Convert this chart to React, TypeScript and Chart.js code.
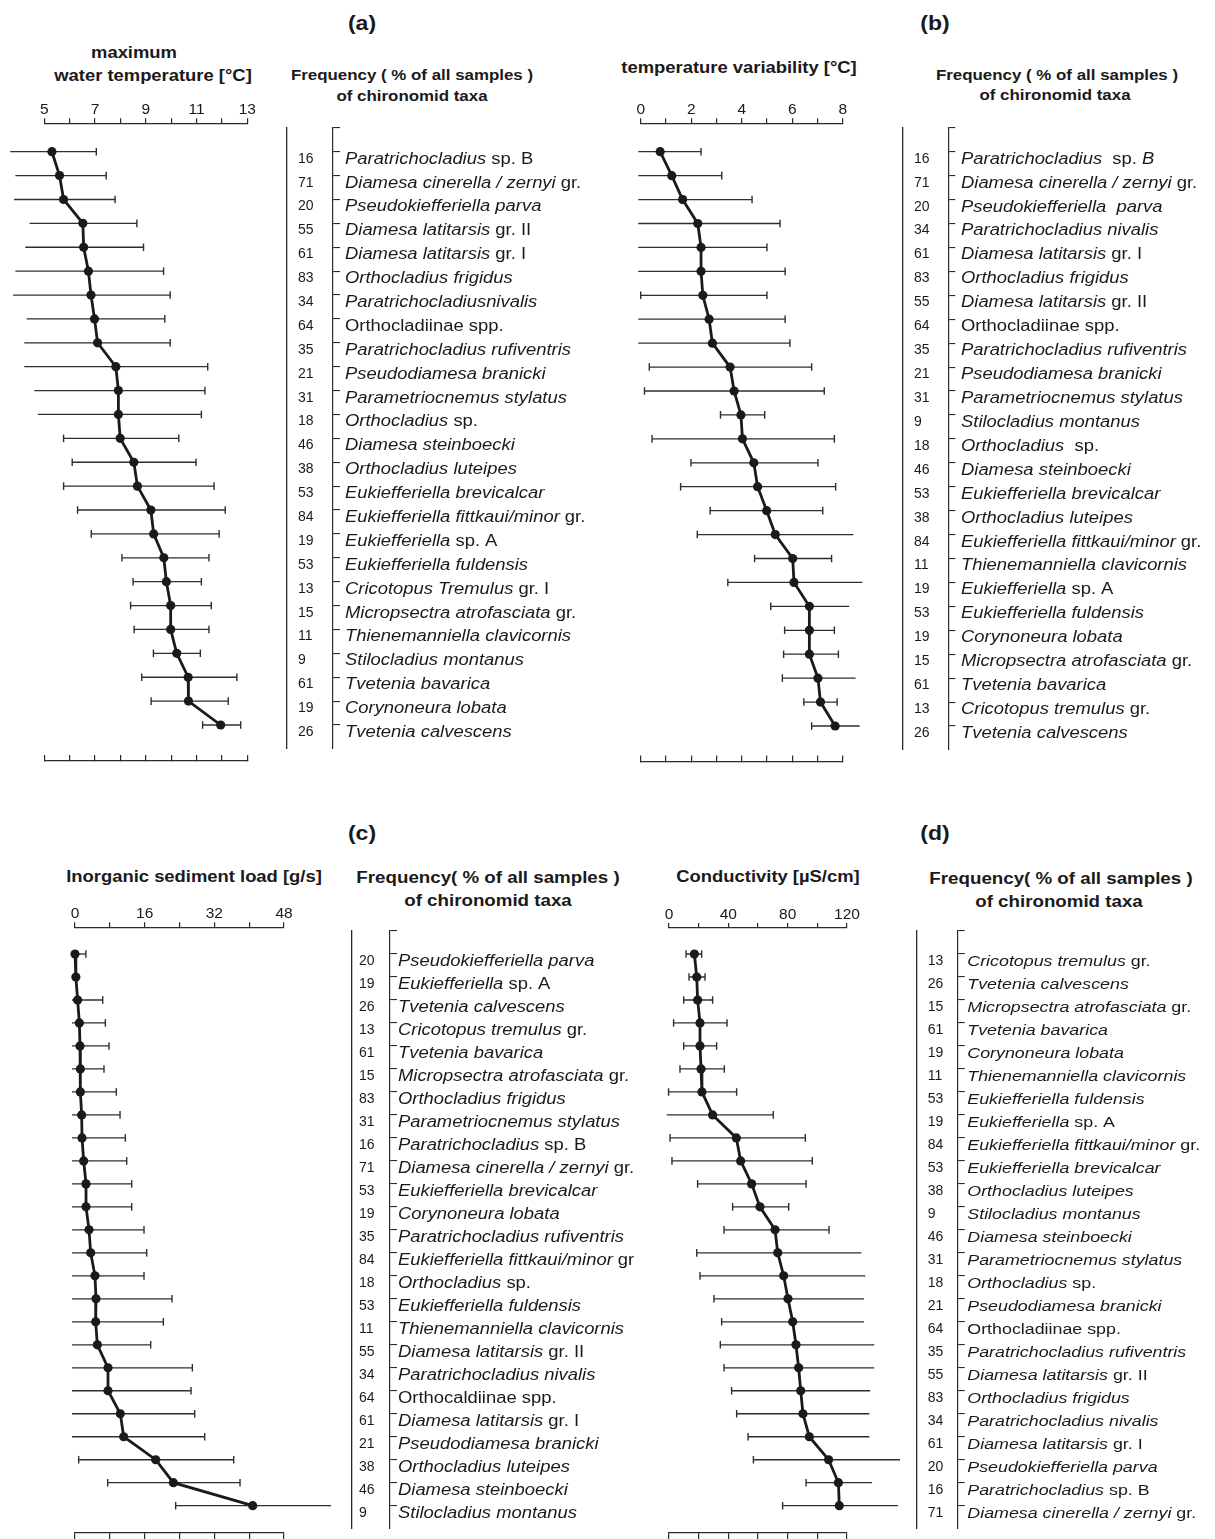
import React, { useEffect, useRef } from "react";
import { Chart, registerables } from "chart.js";
Chart.register(...registerables);

const FONT = '"Liberation Sans", Arial, Helvetica, sans-serif';
const INK = "#1a1a1a";
const BAR = "#2e2e2e";
const AXIS = "#2a2a2a";
const STRETCH = 1.15;

// ---------- Panel (a): maximum water temperature [°C] ----------
const taxaA = [
  "*Paratrichocladius* sp. B", "*Diamesa cinerella / zernyi* gr.", "*Pseudokiefferiella parva*",
  "*Diamesa latitarsis* gr. II", "*Diamesa latitarsis* gr. I", "*Orthocladius frigidus*",
  "*Paratrichocladiusnivalis*", "Orthocladiinae spp.", "*Paratrichocladius rufiventris*",
  "*Pseudodiamesa branicki*", "*Parametriocnemus stylatus*", "*Orthocladius* sp.",
  "*Diamesa steinboecki*", "*Orthocladius luteipes*", "*Eukiefferiella brevicalcar*",
  "*Eukiefferiella fittkaui/minor* gr.", "*Eukiefferiella* sp. A", "*Eukiefferiella fuldensis*",
  "*Cricotopus Tremulus* gr. I", "*Micropsectra atrofasciata* gr.", "*Thienemanniella clavicornis*",
  "*Stilocladius montanus*", "*Tvetenia bavarica*", "*Corynoneura lobata*", "*Tvetenia calvescens*",
];
const freqA = [16, 71, 20, 55, 61, 83, 34, 64, 35, 21, 31, 18, 46, 38, 53, 84, 19, 53, 13, 15, 11, 9, 61, 19, 26];
const meanA = [5.3, 5.6, 5.76, 6.52, 6.55, 6.74, 6.84, 6.98, 7.1, 7.82, 7.92, 7.92, 7.99, 8.53, 8.67, 9.2, 9.31, 9.71, 9.81, 9.98, 9.98, 10.22, 10.67, 10.68, 11.95];
const lowA = [3.66, 3.86, 3.81, 4.42, 4.25, 3.86, 3.77, 4.3, 4.21, 4.21, 4.61, 4.75, 5.76, 6.1, 5.76, 6.31, 6.85, 8.06, 8.5, 8.4, 8.54, 9.3, 8.84, 9.21, 11.24];
const highA = [7.05, 7.44, 7.79, 8.65, 8.91, 9.7, 9.96, 9.75, 9.96, 11.44, 11.33, 11.19, 10.3, 10.98, 11.69, 12.13, 11.89, 11.49, 11.19, 11.58, 11.49, 11.15, 12.59, 12.25, 12.74];
const tickLabelsA = [5, 7, 9, 11, 13];

// ---------- Panel (b): temperature variability [°C] ----------
const taxaB = [
  "*Paratrichocladius*  sp. *B*", "*Diamesa cinerella / zernyi* gr.", "*Pseudokiefferiella  parva*",
  "*Paratrichocladius nivalis*", "*Diamesa latitarsis* gr. I", "*Orthocladius frigidus*",
  "*Diamesa latitarsis* gr. II", "Orthocladiinae spp.", "*Paratrichocladius rufiventris*",
  "*Pseudodiamesa branicki*", "*Parametriocnemus stylatus*", "*Stilocladius montanus*",
  "*Orthocladius*  sp.", "*Diamesa steinboecki*", "*Eukiefferiella brevicalcar*",
  "*Orthocladius luteipes*", "*Eukiefferiella fittkaui/minor* gr.", "*Thienemanniella clavicornis*",
  "*Eukiefferiella* sp. A", "*Eukiefferiella fuldensis*", "*Corynoneura lobata*",
  "*Micropsectra atrofasciata* gr.", "*Tvetenia bavarica*", "*Cricotopus tremulus* gr.", "*Tvetenia calvescens*",
];
const freqB = [16, 71, 20, 34, 61, 83, 55, 64, 35, 21, 31, 9, 18, 46, 53, 38, 84, 11, 19, 53, 19, 15, 61, 13, 26];
const meanB = [0.77, 1.23, 1.66, 2.26, 2.39, 2.39, 2.46, 2.71, 2.84, 3.54, 3.7, 3.97, 4.03, 4.48, 4.63, 4.99, 5.33, 6.02, 6.07, 6.68, 6.68, 6.68, 7.02, 7.12, 7.7];
const lowB = [-0.5, -0.5, -0.5, -0.5, -0.5, -0.5, 0.0, -0.5, -0.5, 0.34, 0.15, 3.16, 0.45, 1.99, 1.58, 2.75, 2.24, 4.51, 3.45, 5.15, 5.7, 5.66, 5.61, 6.46, 6.77];
const highB = [2.39, 3.21, 4.41, 5.52, 5.0, 5.72, 5.0, 5.72, 5.91, 6.77, 7.27, 4.91, 7.67, 7.02, 7.72, 7.21, 8.42, 7.56, 8.78, 8.26, 7.67, 7.83, 8.51, 7.78, 8.67];
const tickLabelsB = [0, 2, 4, 6, 8];

// ---------- Panel (c): inorganic sediment load [g/s] ----------
const taxaC = [
  "*Pseudokiefferiella parva*", "*Eukiefferiella* sp. A", "*Tvetenia calvescens*",
  "*Cricotopus tremulus* gr.", "*Tvetenia bavarica*", "*Micropsectra atrofasciata* gr.",
  "*Orthocladius frigidus*", "*Parametriocnemus stylatus*", "*Paratrichocladius* sp. B",
  "*Diamesa cinerella / zernyi* gr.", "*Eukiefferiella brevicalcar*", "*Corynoneura lobata*",
  "*Paratrichocladius rufiventris*", "*Eukiefferiella fittkaui/minor* gr", "*Orthocladius* sp.",
  "*Eukiefferiella fuldensis*", "*Thienemanniella clavicornis*", "*Diamesa latitarsis* gr. II",
  "*Paratrichocladius nivalis*", "Orthocaldiinae spp.", "*Diamesa latitarsis* gr. I",
  "*Pseudodiamesa branicki*", "*Orthocladius luteipes*", "*Diamesa steinboecki*", "*Stilocladius montanus*",
];
const freqC = [20, 19, 26, 13, 61, 15, 83, 31, 16, 71, 53, 19, 35, 84, 18, 53, 11, 55, 34, 64, 61, 21, 38, 46, 9];
const meanC = [0.0, 0.2, 0.6, 1.0, 1.15, 1.23, 1.23, 1.53, 1.61, 1.99, 2.53, 2.53, 3.22, 3.6, 4.59, 4.82, 4.75, 5.13, 7.58, 7.58, 10.41, 11.18, 18.53, 22.59, 40.81];
const lowC = [-2, -2, -2, -2, -2, -2, -2, -2, -2, -2, -2, -2, -2, -2, -2, -2, -2, -2, -2, -2, -2, -2, 0.84, 7.5, 23.12];
const highC = [2.5, 0.5, 6.36, 6.97, 7.81, 6.66, 9.49, 10.34, 11.56, 11.87, 13.02, 13.02, 15.85, 16.46, 15.85, 22.28, 20.29, 17.38, 26.95, 26.65, 27.49, 29.79, 36.45, 37.9, 58.81];
const tickLabelsC = [0, 16, 32, 48];

// ---------- Panel (d): conductivity [µS/cm] ----------
const taxaD = [
  "*Cricotopus tremulus* gr.", "*Tvetenia calvescens*", "*Micropsectra atrofasciata* gr.",
  "*Tvetenia bavarica*", "*Corynoneura lobata*", "*Thienemanniella clavicornis*",
  "*Eukiefferiella fuldensis*", "*Eukiefferiella* sp. A", "*Eukiefferiella fittkaui/minor* gr.",
  "*Eukiefferiella brevicalcar*", "*Orthocladius luteipes*", "*Stilocladius montanus*",
  "*Diamesa steinboecki*", "*Parametriocnemus stylatus*", "*Orthocladius* sp.",
  "*Pseudodiamesa branicki*", "Orthocladiinae spp.", "*Paratrichocladius rufiventris*",
  "*Diamesa latitarsis* gr. II", "*Orthocladius frigidus*", "*Paratrichocladius nivalis*",
  "*Diamesa latitarsis* gr. I", "*Pseudokiefferiella parva*", "*Paratrichocladius* sp. B",
  "*Diamesa cinerella / zernyi* gr.",
];
const freqD = [13, 26, 15, 61, 19, 11, 53, 19, 84, 53, 38, 9, 46, 31, 18, 21, 64, 35, 55, 83, 34, 61, 20, 16, 71];
const meanD = [17.1, 18.7, 19.3, 20.9, 20.9, 21.6, 22.2, 29.4, 45.4, 48.3, 55.7, 61.3, 71.5, 73.3, 77.3, 80.2, 83.4, 85.6, 87.4, 88.8, 90.3, 94.6, 107.6, 114.2, 114.8];
const lowD = [11.5, 13.5, 9.9, 3.1, 9.9, 7.4, -0.3, -5, 0.7, 2.0, 19.3, 42.9, 37.1, 18.7, 20.9, 30.3, 35.5, 34.6, 37.1, 42.2, 45.6, 53.3, 56.9, 92.4, 76.6];
const highD = [22.0, 24.3, 29.4, 39.1, 32.1, 37.3, 45.6, 70.3, 91.9, 96.6, 92.4, 80.7, 107.9, 129.7, 132.4, 131.5, 131.5, 138.4, 138.4, 135.7, 135.1, 135.1, 160.7, 136.9, 154.4];
const tickLabelsD = [0, 40, 80, 120];

type Box = { left: number; top: number; w: number; h: number };

type PlotCfg = {
  box: Box;
  area: { l: number; r: number; t: number; b: number };
  rowFirst: number;
  rowLast: number;
  min: number;
  max: number;
  step: number;
  labels: number[];
  mean: number[];
  low: number[];
  high: number[];
  clip: any;
  botTick: number;
  botH: number;
};

function PlotChart(p: PlotCfg) {
  const ref = useRef<HTMLCanvasElement>(null);
  useEffect(() => {
    const n = p.mean.length;
    const s = (p.rowLast - p.rowFirst) / (n - 1);
    const yMin = 1 - (p.rowFirst - p.area.t) / s;
    const yMax = n + (p.area.b - p.rowLast) / s;
    const errSets = p.low.map((lo, i) => ({
      data: [
        { x: lo, y: i + 1 },
        { x: p.high[i], y: i + 1 },
      ],
      showLine: true,
      borderColor: BAR,
      borderWidth: 1.3,
      pointStyle: "line",
      pointRotation: 90,
      pointRadius: 3.8,
      pointHoverRadius: 3.8,
      pointBorderWidth: 1.4,
      pointBorderColor: BAR,
      clip: p.clip,
      order: 1,
      xAxisID: "x",
      yAxisID: "y",
    }));
    const meanSet = {
      data: p.mean.map((v, i) => ({ x: v, y: i + 1 })),
      showLine: true,
      borderColor: INK,
      borderWidth: 2.8,
      tension: 0,
      pointRadius: 4.6,
      pointHoverRadius: 4.6,
      pointBackgroundColor: INK,
      pointBorderColor: INK,
      pointBorderWidth: 0,
      clip: false,
      order: 0,
      xAxisID: "x",
      yAxisID: "y",
    };
    const axisCommon = {
      type: "linear",
      min: p.min,
      max: p.max,
      border: { display: true, color: AXIS, width: 1.3 },
    };
    const chart = new Chart(ref.current as HTMLCanvasElement, {
      type: "scatter",
      data: { datasets: [meanSet, ...errSets] as any },
      options: {
        responsive: false,
        maintainAspectRatio: false,
        animation: false,
        events: [],
        layout: {
          padding: {
            left: p.area.l,
            right: p.box.w - p.area.r,
            top: 0,
            bottom: p.box.h - p.area.b - p.botH,
          },
        },
        plugins: { legend: { display: false }, tooltip: { enabled: false } },
        scales: {
          x: {
            ...axisCommon,
            position: "top",
            afterFit: (sc: any) => {
              sc.height = p.area.t;
            },
            ticks: {
              stepSize: p.step,
              autoSkip: false,
              maxRotation: 0,
              padding: 1,
              color: INK,
              font: { family: FONT, size: 15.5, lineHeight: 1 },
              callback: (v: any) => (p.labels.includes(Number(v)) ? String(v) : ""),
            },
            grid: { drawOnChartArea: false, drawTicks: true, tickLength: 5, color: AXIS, lineWidth: 1.2 },
          },
          x2: {
            ...axisCommon,
            position: "bottom",
            afterFit: (sc: any) => {
              sc.height = p.botH;
            },
            ticks: { display: false, stepSize: p.step, autoSkip: false },
            grid: { drawOnChartArea: false, drawTicks: true, tickLength: p.botTick, color: AXIS, lineWidth: 1.2 },
          },
          y: { type: "linear", display: false, reverse: true, min: yMin, max: yMax },
        },
      } as any,
    });
    return () => chart.destroy();
  }, []);
  return (
    <canvas
      ref={ref}
      width={p.box.w}
      height={p.box.h}
      style={{ position: "absolute", left: p.box.left, top: p.box.top, width: p.box.w, height: p.box.h }}
    />
  );
}

type LabelCfg = {
  box: Box;
  rowFirst: number;
  rowLast: number;
  lineX: number;
  bracketX: number;
  numX: number;
  textX: number;
  size: number;
  numSize: number;
  taxa: string[];
  freq: number[];
};

function LabelChart(p: LabelCfg) {
  const ref = useRef<HTMLCanvasElement>(null);
  useEffect(() => {
    const n = p.taxa.length;
    const s = (p.rowLast - p.rowFirst) / (n - 1);
    const top = p.rowFirst - s;
    const bottom = p.rowLast + s;
    const textPlugin = {
      id: "taxaText",
      afterDraw(chart: any) {
        const sc = chart.scales.yR;
        const ctx = chart.ctx as CanvasRenderingContext2D;
        ctx.save();
        ctx.fillStyle = INK;
        ctx.textAlign = "left";
        ctx.textBaseline = "alphabetic";
        p.taxa.forEach((t, i) => {
          const y = sc.getPixelForValue(i + 1);
          ctx.font = `${p.numSize}px ${FONT}`;
          ctx.fillText(String(p.freq[i]), p.numX, y + 11);
          ctx.save();
          ctx.translate(p.textX, y + 12);
          ctx.scale(STRETCH, 1);
          let x = 0;
          t.split("*").forEach((seg, k) => {
            if (!seg) return;
            ctx.font = `${k % 2 === 1 ? "italic " : ""}${p.size}px ${FONT}`;
            ctx.fillText(seg, x, 0);
            x += ctx.measureText(seg).width;
          });
          ctx.restore();
        });
        ctx.restore();
      },
    };
    const chart = new Chart(ref.current as HTMLCanvasElement, {
      type: "scatter",
      data: { datasets: [] },
      options: {
        responsive: false,
        maintainAspectRatio: false,
        animation: false,
        events: [],
        layout: {
          padding: {
            left: p.lineX,
            right: p.box.w - p.bracketX - 10,
            top: top,
            bottom: p.box.h - bottom,
          },
        },
        plugins: { legend: { display: false }, tooltip: { enabled: false } },
        scales: {
          x: { type: "linear", display: false, min: 0, max: 1 },
          yL: {
            type: "linear",
            position: "left",
            reverse: true,
            min: 0,
            max: n + 1,
            afterFit: (sc: any) => {
              sc.width = 0;
            },
            ticks: { display: false },
            grid: { display: false },
            border: { display: true, color: AXIS, width: 1.3 },
          },
          yR: {
            type: "linear",
            position: "right",
            reverse: true,
            min: 0,
            max: n + 1,
            afterFit: (sc: any) => {
              sc.width = 10;
            },
            afterBuildTicks: (sc: any) => {
              sc.ticks = sc.ticks.filter((t: any) => t.value <= n);
            },
            ticks: { display: false, stepSize: 1, autoSkip: false },
            grid: { drawOnChartArea: false, drawTicks: true, tickLength: 7, color: AXIS, lineWidth: 1.1 },
            border: { display: true, color: AXIS, width: 1.2 },
          },
        },
      } as any,
      plugins: [textPlugin],
    });
    return () => chart.destroy();
  }, []);
  return (
    <canvas
      ref={ref}
      width={p.box.w}
      height={p.box.h}
      style={{ position: "absolute", left: p.box.left, top: p.box.top, width: p.box.w, height: p.box.h }}
    />
  );
}

function Txt(props: { x: number; y: number; size: number; children: any }) {
  return (
    <div
      style={{
        position: "absolute",
        left: props.x,
        top: props.y,
        transform: `translate(-50%, -50%) scaleX(${STRETCH})`,
        whiteSpace: "pre",
        fontFamily: FONT,
        fontWeight: "bold",
        fontSize: props.size,
        lineHeight: 1,
        color: INK,
      }}
    >
      {props.children}
    </div>
  );
}

export default function App() {
  return (
    <div style={{ position: "absolute", left: 0, top: 0, width: 1215, height: 1539, background: "#fff", overflow: "hidden" }}>
      <Txt x={362} y={23} size={20}>(a)</Txt>
      <Txt x={935} y={23} size={20}>(b)</Txt>
      <Txt x={362} y={833} size={20}>(c)</Txt>
      <Txt x={935} y={833} size={20}>(d)</Txt>

      <Txt x={134} y={53} size={16}>maximum</Txt>
      <Txt x={153} y={76} size={16}>water temperature [°C]</Txt>
      <Txt x={412} y={75} size={14.7}>Frequency ( % of all samples )</Txt>
      <Txt x={412} y={96} size={14.7}>of chironomid taxa</Txt>

      <Txt x={739} y={68} size={16}>temperature variability [°C]</Txt>
      <Txt x={1057} y={75} size={14.7}>Frequency ( % of all samples )</Txt>
      <Txt x={1055} y={95} size={14.7}>of chironomid taxa</Txt>

      <Txt x={194} y={877} size={16}>Inorganic sediment load [g/s]</Txt>
      <Txt x={488} y={877} size={16.3}>Frequency( % of all samples )</Txt>
      <Txt x={488} y={900} size={16.3}>of chironomid taxa</Txt>

      <Txt x={768} y={877} size={16}>Conductivity [µS/cm]</Txt>
      <Txt x={1061} y={878} size={16.3}>Frequency( % of all samples )</Txt>
      <Txt x={1059} y={901} size={16.3}>of chironomid taxa</Txt>

      <PlotChart
        box={{ left: 0, top: 90, w: 290, h: 690 }}
        area={{ l: 44.3, r: 247.3, t: 33.3, b: 671 }}
        rowFirst={61.7}
        rowLast={635}
        min={5}
        max={13}
        step={1}
        labels={tickLabelsA}
        mean={meanA}
        low={lowA}
        high={highA}
        clip={false}
        botTick={-6}
        botH={8}
      />
      <LabelChart
        box={{ left: 280, top: 90, w: 320, h: 690 }}
        rowFirst={61.7}
        rowLast={635}
        lineX={7}
        bracketX={53}
        numX={18}
        textX={65}
        size={16}
        numSize={14}
        taxa={taxaA}
        freq={freqA}
      />

      <PlotChart
        box={{ left: 595, top: 90, w: 300, h: 690 }}
        area={{ l: 45.7, r: 247.7, t: 33.3, b: 671.5 }}
        rowFirst={61.7}
        rowLast={636}
        min={0}
        max={8}
        step={1}
        labels={tickLabelsB}
        mean={meanB}
        low={lowB}
        high={highB}
        clip={{ left: 2.4, top: false, right: false, bottom: false }}
        botTick={-6}
        botH={8}
      />
      <LabelChart
        box={{ left: 890, top: 90, w: 325, h: 690 }}
        rowFirst={61.7}
        rowLast={636}
        lineX={12.7}
        bracketX={58.3}
        numX={24}
        textX={71}
        size={16}
        numSize={14}
        taxa={taxaB}
        freq={freqB}
      />

      <PlotChart
        box={{ left: 0, top: 890, w: 340, h: 649 }}
        area={{ l: 75, r: 284, t: 37.3, b: 643 }}
        rowFirst={64}
        rowLast={615.7}
        min={0}
        max={48}
        step={8}
        labels={tickLabelsC}
        mean={meanC}
        low={lowC}
        high={highC}
        clip={{ left: 3, top: false, right: false, bottom: false }}
        botTick={6}
        botH={6}
      />
      <LabelChart
        box={{ left: 340, top: 890, w: 300, h: 649 }}
        rowFirst={64}
        rowLast={615.7}
        lineX={11.7}
        bracketX={50}
        numX={19}
        textX={58}
        size={16}
        numSize={14}
        taxa={taxaC}
        freq={freqC}
      />

      <PlotChart
        box={{ left: 600, top: 890, w: 300, h: 649 }}
        area={{ l: 69, r: 247, t: 38, b: 643 }}
        rowFirst={64}
        rowLast={615.7}
        min={0}
        max={120}
        step={20}
        labels={tickLabelsD}
        mean={meanD}
        low={lowD}
        high={highD}
        clip={{ left: 2.3, top: false, right: false, bottom: false }}
        botTick={6}
        botH={6}
      />
      <LabelChart
        box={{ left: 905, top: 890, w: 310, h: 649 }}
        rowFirst={64}
        rowLast={615.7}
        lineX={11.7}
        bracketX={52.7}
        numX={22.7}
        textX={62.3}
        size={15.5}
        numSize={14}
        taxa={taxaD}
        freq={freqD}
      />
    </div>
  );
}
